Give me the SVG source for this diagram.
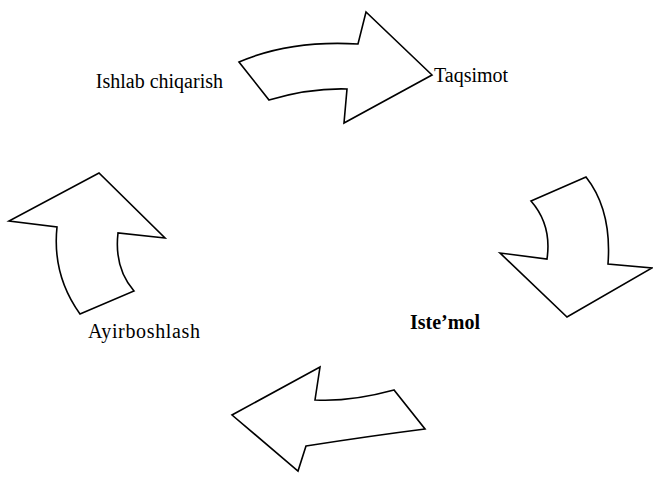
<svg xmlns="http://www.w3.org/2000/svg" width="653" height="477" viewBox="0 0 653 477">
<style>
.arrow{fill:#fff;stroke:#000;stroke-width:1.6;stroke-linejoin:miter}
.t{font-family:"Liberation Serif","Times New Roman",serif;font-size:20px;fill:#000}
.b{font-weight:bold}
</style>
<rect width="653" height="477" fill="#fff"/>
<g id="connectors">
<path id="arrow-top" class="arrow" d="M239,62 Q290,40 358,44 L366,12 L432,75 L344,123 L347,89 Q310,88 269,100 Z"/>
<path id="arrow-right" class="arrow" d="M531,201 L586,177 Q612,210 608,264 L652,268 L567,317 L500,253 L547,259 Q552,225 531,201 Z"/>
<path id="arrow-bottom" class="arrow" d="M425,429 Q370,436 306,446 L298,471 L232,415 L320,367 L315,400 Q350,402 394,390 Z"/>
<path id="arrow-left" class="arrow" d="M80,314 Q52,275 57,227 L9,221 L99,173 L165,238 L118,233 Q114,268 134,291 Z"/>
</g>
<g id="node-ishlab"><text class="t" x="223" y="88" text-anchor="end">Ishlab chiqarish</text></g>
<g id="node-taqsimot"><text class="t" x="434" y="82">Taqsimot</text></g>
<g id="node-istemol"><text class="t b" x="410" y="329">Iste’mol</text></g>
<g id="node-ayirboshlash"><text class="t" x="88" y="338" textLength="112">Ayirboshlash</text></g>
</svg>
